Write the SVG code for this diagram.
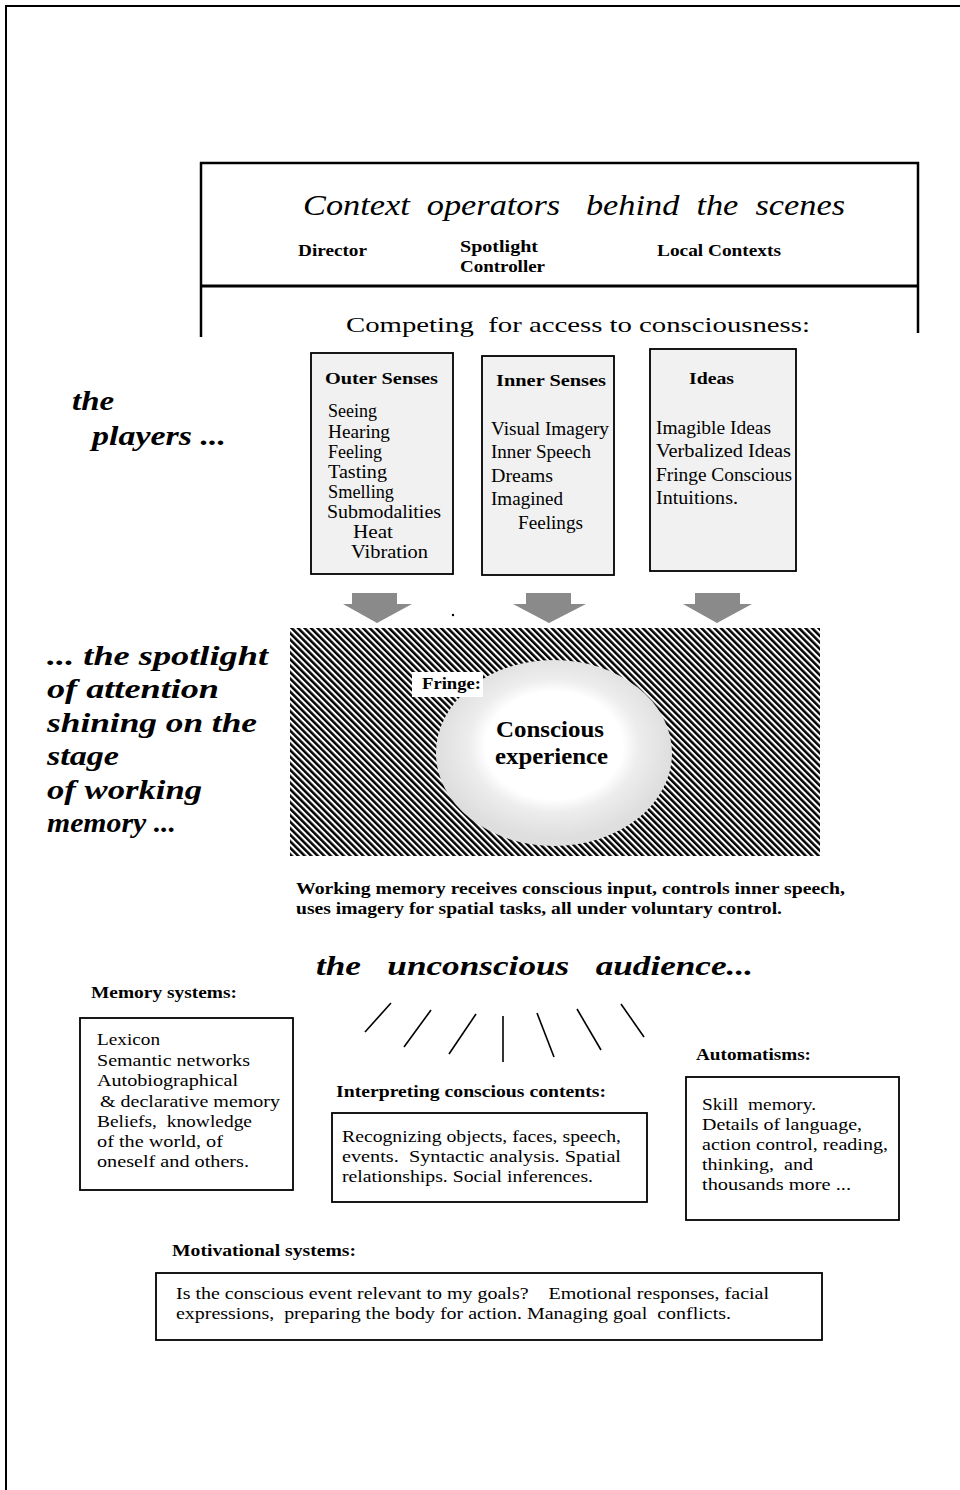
<svg xmlns="http://www.w3.org/2000/svg" width="960" height="1490" viewBox="0 0 960 1490">
<defs>
<style>
text{white-space:pre}
.ser{font-family:"Liberation Serif",serif;fill:#000}
.b{font-weight:bold}
.i{font-style:italic}
.box{fill:#fff;stroke:#000;stroke-width:1.8}
.pbox{fill:#f1f1f1;stroke:#000;stroke-width:1.8}
.line{stroke:#000;fill:none}
.arrow{fill:#8a8a8a}
</style>
<pattern id="hatch" patternUnits="userSpaceOnUse" width="4.6" height="4.6" patternTransform="rotate(-45)">
<rect x="0" y="0" width="4.6" height="4.6" fill="#fff"/>
<rect x="0" y="0" width="2.5" height="4.6" fill="#000"/>
</pattern>
<radialGradient id="fringe" cx="0.5" cy="0.46" r="0.5">
<stop offset="0" stop-color="#fff"/>
<stop offset="0.58" stop-color="#fff"/>
<stop offset="0.72" stop-color="#ededed"/>
<stop offset="1" stop-color="#dedede"/>
</radialGradient>
</defs>
<rect width="960" height="1490" fill="#fff"/>

<g id="page-border">
<line class="line" x1="5" y1="6" x2="960" y2="6" stroke-width="2"/>
<line class="line" x1="6" y1="5" x2="6" y2="1490" stroke-width="2"/>
</g>

<g id="context-operators">
<line class="line" x1="200" y1="163" x2="919" y2="163" stroke-width="2.5"/>
<line class="line" x1="201" y1="162" x2="201" y2="337" stroke-width="2.5"/>
<line class="line" x1="918" y1="162" x2="918" y2="333" stroke-width="2.5"/>
<line class="line" x1="200" y1="286" x2="919" y2="286" stroke-width="3"/>
<text class="ser i" x="303" y="215" font-size="30" textLength="542" lengthAdjust="spacingAndGlyphs">Context  operators   behind  the  scenes</text>
<text class="ser b" x="298" y="256" font-size="17" textLength="69" lengthAdjust="spacingAndGlyphs">Director</text>
<text class="ser b" x="460" y="252" font-size="17" textLength="78" lengthAdjust="spacingAndGlyphs">Spotlight</text>
<text class="ser b" x="460" y="272" font-size="17" textLength="85" lengthAdjust="spacingAndGlyphs">Controller</text>
<text class="ser b" x="657" y="256" font-size="17" textLength="124" lengthAdjust="spacingAndGlyphs">Local Contexts</text>
<text class="ser" x="346" y="332" font-size="22" textLength="464" lengthAdjust="spacingAndGlyphs">Competing  for access to consciousness:</text>
</g>

<g id="players-label">
<text class="ser b i" x="72" y="410" font-size="28" textLength="42" lengthAdjust="spacingAndGlyphs">the</text>
<text class="ser b i" x="92" y="445" font-size="28" textLength="134" lengthAdjust="spacingAndGlyphs">players ...</text>
</g>

<g id="outer-senses">
<rect class="pbox" x="311" y="353" width="142" height="221"/>
<text class="ser b" x="325" y="384" font-size="17.5" textLength="113" lengthAdjust="spacingAndGlyphs">Outer Senses</text>
<g class="ser" font-size="18">
<text x="328" y="417" textLength="49" lengthAdjust="spacingAndGlyphs">Seeing</text>
<text x="328" y="438" textLength="62" lengthAdjust="spacingAndGlyphs">Hearing</text>
<text x="328" y="458" textLength="54" lengthAdjust="spacingAndGlyphs">Feeling</text>
<text x="328" y="478" textLength="59" lengthAdjust="spacingAndGlyphs">Tasting</text>
<text x="328" y="498" textLength="66" lengthAdjust="spacingAndGlyphs">Smelling</text>
<text x="327" y="518" textLength="114" lengthAdjust="spacingAndGlyphs">Submodalities</text>
<text x="353" y="538" textLength="40" lengthAdjust="spacingAndGlyphs">Heat</text>
<text x="351" y="558" textLength="77" lengthAdjust="spacingAndGlyphs">Vibration</text>
</g>
</g>

<g id="inner-senses">
<rect class="pbox" x="482" y="356" width="132" height="219"/>
<text class="ser b" x="496" y="386" font-size="17.5" textLength="110" lengthAdjust="spacingAndGlyphs">Inner Senses</text>
<g class="ser" font-size="18">
<text x="491" y="435" textLength="118" lengthAdjust="spacingAndGlyphs">Visual Imagery</text>
<text x="491" y="458" textLength="100" lengthAdjust="spacingAndGlyphs">Inner Speech</text>
<text x="491" y="482" textLength="62" lengthAdjust="spacingAndGlyphs">Dreams</text>
<text x="491" y="505" textLength="72" lengthAdjust="spacingAndGlyphs">Imagined</text>
<text x="518" y="529" textLength="65" lengthAdjust="spacingAndGlyphs">Feelings</text>
</g>
</g>

<g id="ideas">
<rect class="pbox" x="650" y="349" width="146" height="222"/>
<text class="ser b" x="689" y="384" font-size="17.5" textLength="45" lengthAdjust="spacingAndGlyphs">Ideas</text>
<g class="ser" font-size="18">
<text x="656" y="434" textLength="115" lengthAdjust="spacingAndGlyphs">Imagible Ideas</text>
<text x="656" y="457" textLength="135" lengthAdjust="spacingAndGlyphs">Verbalized Ideas</text>
<text x="656" y="481" textLength="136" lengthAdjust="spacingAndGlyphs">Fringe Conscious</text>
<text x="656" y="504" textLength="82" lengthAdjust="spacingAndGlyphs">Intuitions.</text>
</g>
</g>

<g id="connectors">
<polygon class="arrow" points="352,593 397,593 397,604 412,604 377,623 343,604 352,604"/>
<polygon class="arrow" points="526,593 571,593 571,604 586,604 549,623 513,604 526,604"/>
<polygon class="arrow" points="695,593 740,593 740,604 752,604 717,623 683,604 695,604"/>
<line class="line" x1="391" y1="1003" x2="365" y2="1032" stroke-width="1.6"/>
<line class="line" x1="431" y1="1010" x2="404" y2="1047" stroke-width="1.6"/>
<line class="line" x1="476" y1="1014" x2="449" y2="1054" stroke-width="1.6"/>
<line class="line" x1="503" y1="1016" x2="503" y2="1062" stroke-width="1.6"/>
<line class="line" x1="537" y1="1013" x2="554" y2="1057" stroke-width="1.6"/>
<line class="line" x1="577" y1="1009" x2="601" y2="1050" stroke-width="1.6"/>
<line class="line" x1="621" y1="1004" x2="644" y2="1037" stroke-width="1.6"/>
</g>
<circle cx="453" cy="615" r="1.2" fill="#000"/>

<g id="spotlight-label">
<g class="ser b i" font-size="28">
<text x="47" y="665" textLength="221" lengthAdjust="spacingAndGlyphs">... the spotlight</text>
<text x="47" y="698" textLength="172" lengthAdjust="spacingAndGlyphs">of attention</text>
<text x="47" y="732" textLength="210" lengthAdjust="spacingAndGlyphs">shining on the</text>
<text x="47" y="765" textLength="72" lengthAdjust="spacingAndGlyphs">stage</text>
<text x="47" y="799" textLength="155" lengthAdjust="spacingAndGlyphs">of working</text>
<text x="47" y="832" textLength="129" lengthAdjust="spacingAndGlyphs">memory ...</text>
</g>
</g>

<g id="stage">
<rect x="290" y="628" width="530" height="228" fill="url(#hatch)"/>
<ellipse cx="554" cy="753" rx="118" ry="93" fill="url(#fringe)"/>
<rect x="412" y="672" width="71" height="25" fill="#fff"/>
<text class="ser b" x="422" y="689" font-size="17" textLength="59" lengthAdjust="spacingAndGlyphs">Fringe:</text>
<text class="ser b" x="496" y="737" font-size="24" textLength="108" lengthAdjust="spacingAndGlyphs">Conscious</text>
<text class="ser b" x="495" y="764" font-size="24" textLength="113" lengthAdjust="spacingAndGlyphs">experience</text>
</g>

<g id="working-memory-note">
<text class="ser b" x="296" y="894" font-size="16.5" textLength="549" lengthAdjust="spacingAndGlyphs">Working memory receives conscious input, controls inner speech,</text>
<text class="ser b" x="296" y="914" font-size="16.5" textLength="486" lengthAdjust="spacingAndGlyphs">uses imagery for spatial tasks, all under voluntary control.</text>
</g>

<g id="audience-label">
<text class="ser b i" x="316" y="975" font-size="28" textLength="437" lengthAdjust="spacingAndGlyphs">the   unconscious   audience...</text>
</g>

<g id="memory-systems">
<text class="ser b" x="91" y="998" font-size="16.5" textLength="146" lengthAdjust="spacingAndGlyphs">Memory systems:</text>
<rect class="box" x="80" y="1018" width="213" height="172"/>
<g class="ser" font-size="17.5">
<text x="97" y="1045" textLength="63" lengthAdjust="spacingAndGlyphs">Lexicon</text>
<text x="97" y="1066" textLength="153" lengthAdjust="spacingAndGlyphs">Semantic networks</text>
<text x="97" y="1086" textLength="141" lengthAdjust="spacingAndGlyphs">Autobiographical</text>
<text x="100" y="1107" textLength="180" lengthAdjust="spacingAndGlyphs">&amp; declarative memory</text>
<text x="97" y="1127" textLength="155" lengthAdjust="spacingAndGlyphs">Beliefs,  knowledge</text>
<text x="97" y="1147" textLength="126" lengthAdjust="spacingAndGlyphs">of the world, of</text>
<text x="97" y="1167" textLength="152" lengthAdjust="spacingAndGlyphs">oneself and others.</text>
</g>
</g>

<g id="interpreting">
<text class="ser b" x="336" y="1097" font-size="16.5" textLength="270" lengthAdjust="spacingAndGlyphs">Interpreting conscious contents:</text>
<rect class="box" x="332" y="1113" width="315" height="89"/>
<g class="ser" font-size="17.5">
<text x="342" y="1142" textLength="279" lengthAdjust="spacingAndGlyphs">Recognizing objects, faces, speech,</text>
<text x="342" y="1162" textLength="279" lengthAdjust="spacingAndGlyphs">events.  Syntactic analysis. Spatial</text>
<text x="342" y="1182" textLength="251" lengthAdjust="spacingAndGlyphs">relationships. Social inferences.</text>
</g>
</g>

<g id="automatisms">
<text class="ser b" x="696" y="1060" font-size="16.5" textLength="115" lengthAdjust="spacingAndGlyphs">Automatisms:</text>
<rect class="box" x="686" y="1077" width="213" height="143"/>
<g class="ser" font-size="17.5">
<text x="702" y="1110" textLength="114" lengthAdjust="spacingAndGlyphs">Skill  memory.</text>
<text x="702" y="1130" textLength="160" lengthAdjust="spacingAndGlyphs">Details of language,</text>
<text x="702" y="1150" textLength="186" lengthAdjust="spacingAndGlyphs">action control, reading,</text>
<text x="702" y="1170" textLength="111" lengthAdjust="spacingAndGlyphs">thinking,  and</text>
<text x="702" y="1190" textLength="149" lengthAdjust="spacingAndGlyphs">thousands more ...</text>
</g>
</g>

<g id="motivational">
<text class="ser b" x="172" y="1256" font-size="16.5" textLength="184" lengthAdjust="spacingAndGlyphs">Motivational systems:</text>
<rect class="box" x="156" y="1273" width="666" height="67"/>
<g class="ser" font-size="17.5">
<text x="176" y="1299" textLength="593" lengthAdjust="spacingAndGlyphs">Is the conscious event relevant to my goals?    Emotional responses, facial</text>
<text x="176" y="1319" textLength="555" lengthAdjust="spacingAndGlyphs">expressions,  preparing the body for action. Managing goal  conflicts.</text>
</g>
</g>
</svg>
